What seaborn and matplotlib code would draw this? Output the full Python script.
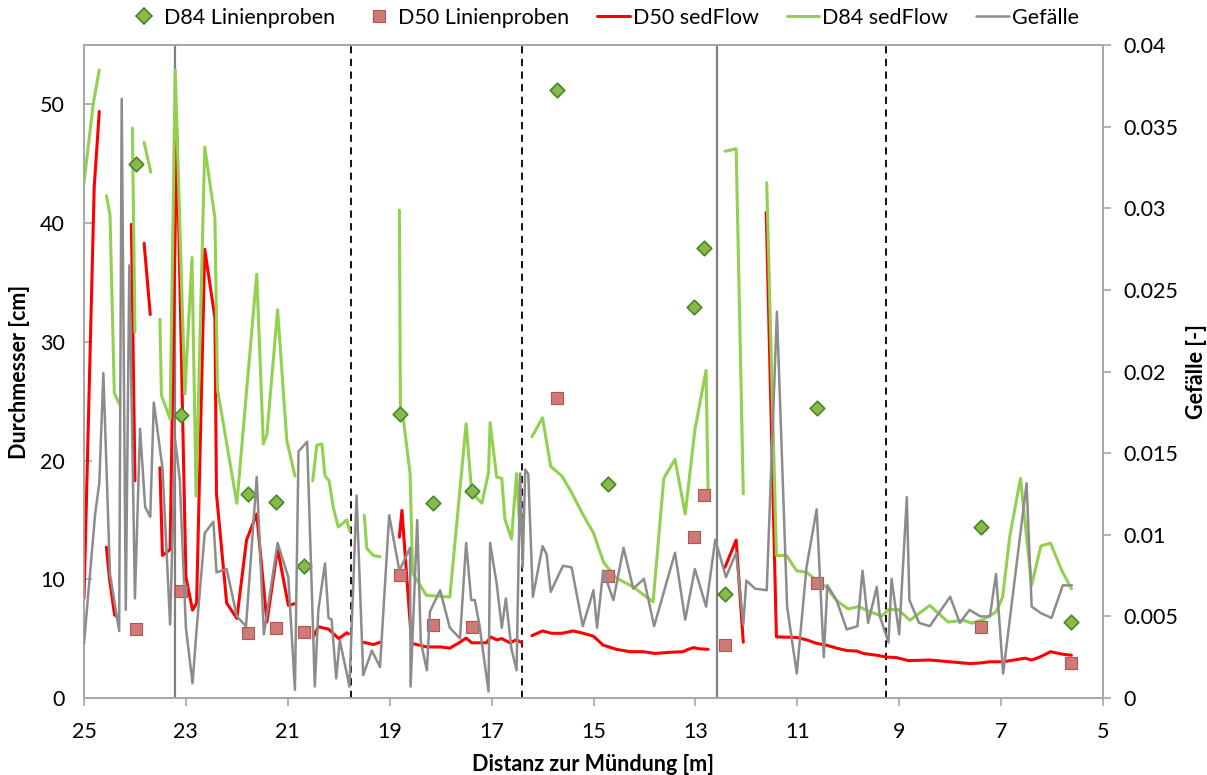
import numpy as np
import pandas as pd
import matplotlib
matplotlib.use("Agg")
import matplotlib.pyplot as plt
from matplotlib.lines import Line2D
from matplotlib.ticker import FuncFormatter
import seaborn as sns

sns.set_theme(style="white")
plt.rcParams['font.family'] = ['Lato', 'DejaVu Sans']
plt.rcParams['text.color'] = 'black'
plt.rcParams['axes.labelcolor'] = 'black'

nan = np.nan

# Linienproben (Feldmessungen)
probe_x = [23.98, 23.10, 21.78, 21.23, 20.68, 18.80, 18.15, 17.38,
           15.72, 14.72, 13.03, 12.83, 12.42, 10.61, 7.39, 5.63]
probe_d84 = [45.0, 23.8, 17.2, 16.55, 11.1, 23.95, 16.4, 17.4,
             51.2, 18.0, 32.9, 37.9, 8.8, 24.4, 14.4, 6.4]
probe_d50 = [5.8, 9.0, 5.45, 5.9, 5.6, 10.4, 6.15, 5.95,
             25.3, 10.25, 13.6, 17.1, 4.45, 9.7, 5.95, 2.95]

# sedFlow D84 (NaN trennt die Abschnitte)
d84_x = [25.0, 24.82, 24.70, nan,
         24.56, 24.49, 24.405, 24.31, nan,
         24.05, 24.0, nan,
         23.82, 23.69, nan,
         23.51, 23.48, 23.31, 23.21, 23.02, 22.88, 22.80, 22.63, 22.43, 22.38,
         22.0, 21.61, 21.48, 21.41, 21.2, 21.02, 20.86, nan,
         20.51, 20.43, 20.33, 20.27, 20.19, 20.11, 20.01, 19.84, 19.79, nan,
         19.50, 19.45, 19.32, 19.19, nan,
         18.81, 18.79, 18.73, 18.60, 18.55, 18.28, 17.82, 17.50, 17.39, 17.19,
         17.06, 17.03, 16.90, 16.80, 16.74, 16.61, 16.51, 16.44, nan,
         16.21, 16.0, 15.84, 15.62, 15.43, 15.2, 15.0, 14.8, 14.55, 14.22,
         13.83, 13.62, 13.4, 13.2, 13.01, 12.79, 12.75, nan,
         12.42, 12.2, 12.06, nan,
         11.6, 11.41, 11.21, 11.01, 10.82, 10.62, 10.43, 10.23, 10.0, 9.8,
         9.57, 9.34, 9.21, 9.02, 8.79, 8.40, 8.04, 7.74, 7.58, 7.35,
         7.10, 6.97, 6.83, 6.62, 6.40, 6.22, 6.03, 5.81, 5.62]
d84_y = [43.4, 50.0, 52.9, nan,
         42.3, 40.7, 25.7, 24.8, nan,
         48.0, 30.8, nan,
         46.8, 44.3, nan,
         31.9, 25.5, 23.5, 52.9, 25.6, 37.1, 17.0, 46.4, 40.4, 26.0,
         16.4, 35.7, 21.4, 22.2, 32.7, 21.7, 18.7, nan,
         18.3, 21.3, 21.4, 18.7, 18.3, 16.1, 14.4, 15.0, 14.1, nan,
         15.4, 12.6, 12.0, 11.9, nan,
         41.1, 24.5, 23.4, 18.9, 10.5, 8.65, 8.5, 23.1, 17.3, 16.4,
         19.0, 23.2, 18.6, 18.5, 15.1, 13.4, 18.9, 13.8, nan,
         22.0, 23.6, 19.5, 18.7, 17.3, 15.4, 13.9, 11.4, 10.1, 9.35,
         8.1, 18.5, 20.1, 15.5, 22.6, 27.6, 17.2, nan,
         46.05, 46.25, 17.2, nan,
         43.4, 12.0, 12.0, 10.7, 10.6, 9.9, 9.35, 8.2, 7.5, 7.7,
         7.25, 6.9, 7.45, 7.45, 6.55, 7.8, 6.4, 6.55, 6.3, 6.6,
         7.25, 8.5, 13.6, 18.5, 9.5, 12.8, 13.05, 10.75, 9.2]

# sedFlow D50
d50_x = [25.0, 24.8, 24.70, nan,
         24.56, 24.5, 24.4, 24.33, nan,
         24.07, 24.0, nan,
         23.82, 23.7, nan,
         23.51, 23.46, 23.31, 23.18, 23.0, 22.87, 22.79, 22.63, 22.43, 22.4,
         22.2, 22.0, 21.81, 21.61, 21.41, 21.2, 20.99, 20.86, nan,
         20.5, 20.4, 20.2, 20.0, 19.84, 19.81, nan,
         19.52, 19.32, 19.19, nan,
         18.81, 18.76, 18.57, 18.27, 18.0, 17.82, 17.62, 17.5, 17.39, 17.1,
         17.02, 16.9, 16.8, 16.64, 16.51, 16.41, nan,
         16.21, 16.0, 15.82, 15.62, 15.4, 15.2, 15.0, 14.81, 14.55, 14.28,
         14.02, 13.79, 13.5, 13.24, 13.14, 13.03, 12.94, 12.75, nan,
         12.42, 12.2, 12.06, nan,
         11.61, 11.41, 11.01, 10.82, 10.62, 10.43, 10.23, 10.03, 9.83, 9.7,
         9.44, 9.25, 9.05, 8.82, 8.4, 8.0, 7.61, 7.41, 7.22, 6.96,
         6.53, 6.4, 6.24, 6.03, 5.81, 5.62]
d50_y = [8.4, 43.0, 49.4, nan,
         12.7, 10.05, 7.0, 6.8, nan,
         39.9, 18.3, nan,
         38.3, 32.3, nan,
         19.4, 12.0, 12.5, 48.0, 10.2, 7.4, 8.0, 37.8, 32.0, 17.2,
         8.0, 6.7, 13.3, 15.5, 6.4, 12.6, 7.8, 7.95, nan,
         5.15, 6.0, 5.8, 5.0, 5.5, 5.4, nan,
         4.7, 4.5, 4.7, nan,
         13.55, 15.8, 4.6, 4.3, 4.3, 4.2, 4.7, 5.05, 4.65, 4.65,
         5.15, 4.9, 5.0, 4.65, 4.9, 4.65, nan,
         5.25, 5.65, 5.45, 5.45, 5.65, 5.45, 5.2, 4.45, 4.1, 3.9,
         3.9, 3.75, 3.85, 3.9, 4.1, 4.25, 4.15, 4.1, nan,
         11.0, 13.3, 4.7, nan,
         40.9, 5.15, 5.1, 4.9, 4.6, 4.45, 4.2, 4.0, 3.95, 3.75,
         3.6, 3.45, 3.4, 3.15, 3.2, 3.05, 2.9, 2.95, 3.05, 3.05,
         3.35, 3.2, 3.45, 3.9, 3.7, 3.6]

# Gefälle [-]
slope_x = [25.0, 24.78, 24.70, 24.62, 24.49, 24.31, 24.26, 24.18, 24.11, 24.0,
           23.90, 23.80, 23.70, 23.63, 23.46, 23.31, 23.21, 23.12, 23.0, 22.87,
           22.79, 22.63, 22.46, 22.40, 22.2, 22.0, 21.82, 21.61, 21.47, 21.2,
           20.99, 20.86, 20.79, 20.62, 20.47, 20.40, 20.27, 20.2, 20.14, 20.05,
           19.98, 19.79, 19.65, 19.52, 19.35, 19.19, 19.01, 18.81, 18.6, 18.59,
           18.46, 18.39, 18.27, 18.21, 18.01, 17.82, 17.62, 17.5, 17.40, 17.33,
           17.24, 17.06, 17.03, 16.9, 16.8, 16.72, 16.61, 16.51, 16.44, 16.39,
           16.34, 16.28, 16.19, 16.0, 15.92, 15.84, 15.60, 15.43, 15.21, 15.0,
           14.93, 14.81, 14.61, 14.41, 14.22, 14.01, 13.81, 13.40, 13.2, 13.01,
           12.79, 12.61, 12.40, 12.2, 12.06, 12.0, 11.83, 11.6, 11.40, 11.2,
           11.01, 10.82, 10.62, 10.48, 10.41, 10.23, 10.03, 9.82, 9.72, 9.61,
           9.44, 9.38, 9.21, 9.15, 9.0, 8.85, 8.80, 8.61, 8.40, 8.0,
           7.81, 7.62, 7.41, 7.22, 7.10, 6.96, 6.50, 6.40, 6.22, 6.01,
           5.79, 5.61]
slope_y = [0.00335, 0.0113, 0.01315, 0.0199, 0.0076, 0.0041, 0.0367, 0.0054, 0.0265, 0.0061,
           0.0165, 0.0117, 0.0111, 0.0181, 0.0141, 0.0045, 0.0158, 0.01335, 0.0043, 0.0009,
           0.0042, 0.0101, 0.0108, 0.0077, 0.0079, 0.0050, 0.0044, 0.01355, 0.0039, 0.0095,
           0.0074, 0.0005, 0.0151, 0.0157, 0.0007, 0.0054, 0.00825, 0.0049, 0.0048, 0.0012,
           0.00355, 0.0007, 0.0124, 0.0014, 0.0029, 0.0019, 0.0112, 0.0078, 0.0092, 0.0007,
           0.0109, 0.00345, 0.0017, 0.0053, 0.0066, 0.0043, 0.00365, 0.0095, 0.0060, 0.0060,
           0.0045, 0.0004, 0.0095, 0.0070, 0.0043, 0.0061, 0.0030, 0.0017, 0.01376, 0.0080,
           0.0140, 0.0137, 0.0062, 0.0093, 0.0088, 0.0065, 0.0081, 0.0080, 0.0044, 0.0066,
           0.0043, 0.0078, 0.0060, 0.0092, 0.0067, 0.0073, 0.0044, 0.0089, 0.0048, 0.0079,
           0.0056, 0.0097, 0.0074, 0.0089, 0.0045, 0.0072, 0.0067, 0.0066, 0.02366, 0.0056,
           0.0015, 0.0080, 0.01156, 0.0025, 0.0069, 0.0060, 0.0042, 0.0044, 0.0078, 0.0046,
           0.0068, 0.0050, 0.0034, 0.0073, 0.0039, 0.0123, 0.0060, 0.0046, 0.0044, 0.0062,
           0.0046, 0.0054, 0.0050, 0.0050, 0.0076, 0.0015, 0.01315, 0.0056, 0.0052, 0.0049,
           0.0069, 0.0069]

# Abschnittsgrenzen
solid_bounds = [23.21, 12.58]
dashed_bounds = [19.76, 16.40, 9.26]

x_ticks = [25, 23, 21, 19, 17, 15, 13, 11, 9, 7, 5]
y_ticks = [0, 10, 20, 30, 40, 50]
slope_ticks = [0, 0.005, 0.01, 0.015, 0.02, 0.025, 0.03, 0.035, 0.04]

GREEN = "#92D050"
RED = "#FF0000"
GRAY = "#8C8C8C"
DIAMOND_FACE = "#8DB64C"
DIAMOND_EDGE = "#3E8A24"
SQUARE_FACE = "#D07A78"
SQUARE_EDGE = "#B9524F"
AXIS_GRAY = "#A6A6A6"


def segmented(x, y):
    df = pd.DataFrame({"x": x, "y": y})
    df["seg"] = df["y"].isna().cumsum()
    return df.dropna()


fig = plt.figure(figsize=(12.07, 7.75), dpi=100)
ax = fig.add_axes([84 / 1207, 1 - 698 / 775, (1103 - 84) / 1207, (698 - 45) / 775])

for xb in solid_bounds:
    ax.axvline(xb, color="#7F7F7F", lw=1.6, zorder=1)
for xb in dashed_bounds:
    ax.axvline(xb, color="black", lw=1.3, ls=(0, (4, 3)), zorder=1)

sns.lineplot(data=segmented(d50_x, d50_y), x="x", y="y", units="seg",
             estimator=None, sort=False, color=RED, lw=2.2, ax=ax, zorder=3)
sns.lineplot(data=segmented(d84_x, d84_y), x="x", y="y", units="seg",
             estimator=None, sort=False, color=GREEN, lw=2.2, ax=ax, zorder=3)
sns.scatterplot(x=probe_x, y=probe_d84, marker="D", s=55, color=DIAMOND_FACE,
                edgecolor=DIAMOND_EDGE, linewidth=1.2, ax=ax, zorder=5, legend=False)
sns.scatterplot(x=probe_x, y=probe_d50, marker="s", s=75, color=SQUARE_FACE,
                edgecolor=SQUARE_EDGE, linewidth=0.8, ax=ax, zorder=5, legend=False)

ax.set_xlim(25, 5)
ax.set_ylim(0, 55)
ax.set_xticks(x_ticks)
ax.set_yticks(y_ticks)
ax.set_xlabel("Distanz zur Mündung [m]", fontsize=15.5, fontweight="bold", labelpad=9)
ax.set_ylabel("Durchmesser [cm]", fontsize=15.5, fontweight="bold", labelpad=7)

ax2 = ax.twinx()
sns.lineplot(x=slope_x, y=slope_y, sort=False, estimator=None, color=GRAY,
             lw=1.8, ax=ax2, zorder=4)
ax2.set_ylim(0, 0.04)
ax2.set_yticks(slope_ticks)
ax2.yaxis.set_major_formatter(FuncFormatter(lambda v, p: f"{v:g}"))
ax2.set_ylabel("Gefälle [-]", fontsize=15.5, fontweight="bold", labelpad=5)

for a in (ax, ax2):
    for sp in a.spines.values():
        sp.set_color(AXIS_GRAY)
        sp.set_linewidth(1.2)
ax.tick_params(axis="y", direction="in", length=6, width=1.2, color=AXIS_GRAY,
               labelsize=15.5, pad=14, labelcolor="black")
ax.tick_params(axis="x", direction="out", length=6, width=1.2, color=AXIS_GRAY,
               labelsize=15.5, pad=11, bottom=True, labelcolor="black")
ax2.tick_params(axis="y", direction="out", length=6, width=1.2, color=AXIS_GRAY,
                labelsize=15.5, pad=9, right=True, labelcolor="black")

handles = [
    Line2D([], [], ls="none", marker="D", ms=8, mfc=DIAMOND_FACE, mec=DIAMOND_EDGE, mew=1.2),
    Line2D([], [], ls="none", marker="s", ms=9, mfc=SQUARE_FACE, mec=SQUARE_EDGE, mew=0.8),
    Line2D([], [], color=RED, lw=2.2),
    Line2D([], [], color=GREEN, lw=2.2),
    Line2D([], [], color=GRAY, lw=1.8),
]
labels = ["D84 Linienproben", "D50 Linienproben", "D50 sedFlow", "D84 sedFlow", "Gefälle"]
fig.legend(handles, labels, loc="center", bbox_to_anchor=(0.5, 1 - 18 / 775), ncol=5,
           frameon=False, fontsize=15.5, handlelength=1.5, handletextpad=0.15,
           columnspacing=1.3)

fig.savefig("out.png", dpi=100)
